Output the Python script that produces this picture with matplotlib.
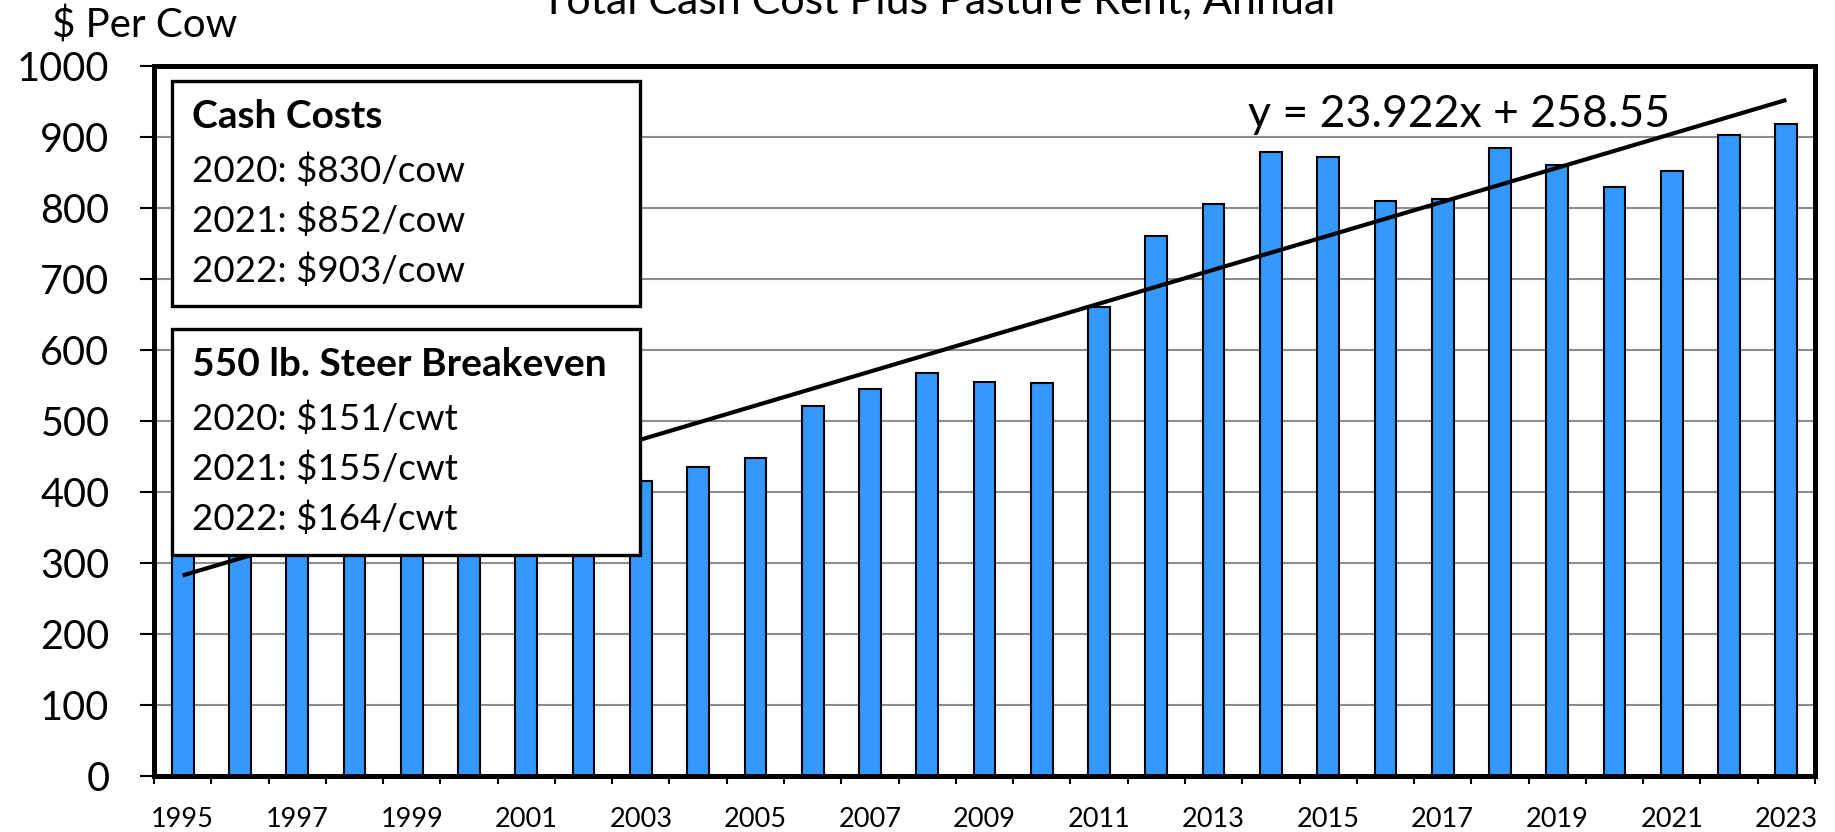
import matplotlib
matplotlib.use('Agg')
import matplotlib.pyplot as plt
from matplotlib.patches import Rectangle
import numpy as np

plt.rcParams['font.family'] = ['Lato', 'DejaVu Sans']

# yillik toplam nakit maliyet + mera kirasi ($/inek)
years = list(range(1995, 2024))
cost_per_cow = [350, 355, 365, 375, 380, 390, 400, 401, 416, 435,
                448, 521, 545, 567, 555, 554, 661, 760, 805, 879,
                872, 810, 813, 884, 860, 830, 852, 903, 918]

# trend cizgisi (grafikteki denklem)
trend_slope = 23.922
trend_intercept = 258.55
trend_label = 'y = 23.922x + 258.55'

title = 'Total Cash Cost Plus Pasture Rent, Annual'
ylabel = '$ Per Cow'

cash_header = 'Cash Costs'
cash_lines = ['2020: $830/cow', '2021: $852/cow', '2022: $903/cow']
steer_header = '550 lb. Steer Breakeven'
steer_lines = ['2020: $151/cwt', '2021: $155/cwt', '2022: $164/cwt']

W, H = 1835, 832
fig = plt.figure(figsize=(W / 100, H / 100), dpi=100)
ax = fig.add_axes([154 / W, 1 - 776 / H, (1815 - 154) / W, (776 - 66) / H])

x = np.arange(len(years))
ax.bar(x, cost_per_cow, width=0.38, color='#3399ff', edgecolor='black',
       linewidth=1.5, zorder=2)

# trend
tx = np.array([x[0], x[-1]])
ty = trend_slope * (tx + 1) + trend_intercept
ax.plot(tx, ty, color='black', linewidth=3, zorder=3, solid_capstyle='butt')

ax.set_xlim(-0.5, len(years) - 0.5)
ax.set_ylim(0, 1000)
ax.set_yticks(np.arange(0, 1001, 100))
ax.yaxis.grid(True, color='#8c8c8c', linewidth=1.5)
ax.set_axisbelow(True)

# x etiketleri ortada, tik isaretleri sinirlarda
ax.set_xticks(x[::2])
ax.set_xticklabels([str(y) for y in years[::2]])
ax.set_xticks(np.arange(-0.5, len(years)), minor=True)
ax.tick_params(axis='x', which='major', length=0, pad=22, labelsize=19.5)
ax.tick_params(axis='x', which='minor', length=6, width=1.5, direction='out')
ax.tick_params(axis='y', length=10, width=1.5, pad=22, labelsize=28.5)

for s in ax.spines.values():
    s.set_linewidth(3.6)
    s.set_zorder(5)

fig.text(938 / W, 1 - 13 / H, title, ha='center', va='baseline', fontsize=31)
fig.text(52 / W, 1 - 38 / H, ylabel, ha='left', va='baseline', fontsize=29)

fig.text(1248 / W, 1 - 127 / H, trend_label, ha='left', va='baseline', fontsize=32)

# bilgi kutulari
for top, bottom, header, lines in [(81, 306, cash_header, cash_lines),
                                    (329, 555, steer_header, steer_lines)]:
    box = Rectangle((172 / W, 1 - bottom / H), (640 - 172) / W, (bottom - top) / H,
                    transform=fig.transFigure, facecolor='white',
                    edgecolor='black', linewidth=2.4, zorder=10)
    fig.add_artist(box)
    base = top + 47
    fig.text(192 / W, 1 - base / H, header, ha='left', va='baseline',
             fontsize=28, fontweight='bold', zorder=11)
    for i, line in enumerate(lines):
        fig.text(192 / W, 1 - (base + 54 + 50 * i) / H, line, ha='left',
                 va='baseline', fontsize=26.5, zorder=11)

fig.savefig('out.png', dpi=100)
